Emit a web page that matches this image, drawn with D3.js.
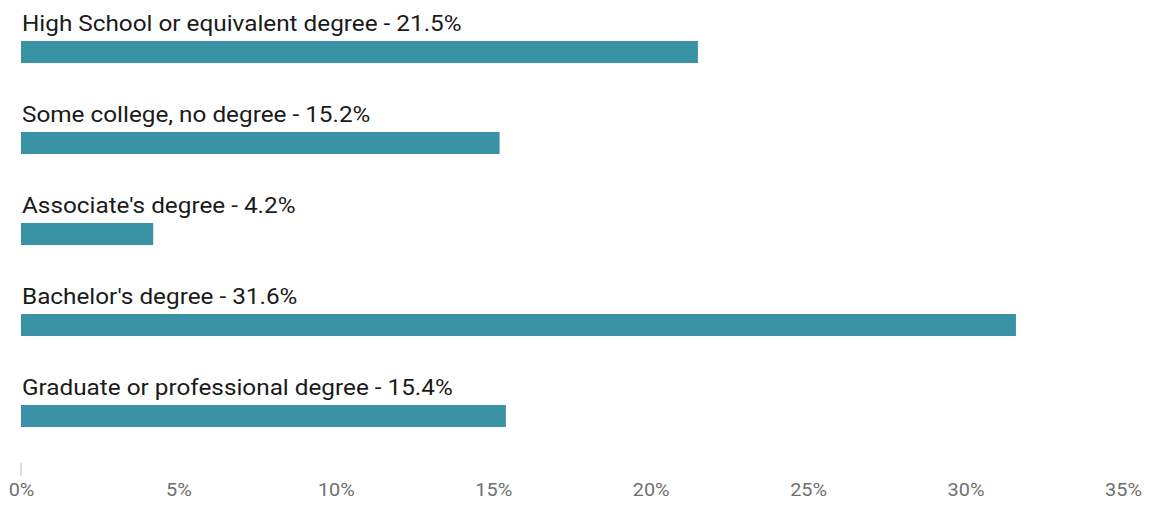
<!DOCTYPE html>
<html>
<head>
<meta charset="utf-8">
<script src="https://cdn.jsdelivr.net/npm/d3@7"></script>
<style>
  html, body { margin: 0; padding: 0; background: #fff; }
  svg { display: block; }
</style>
</head>
<body>
<svg id="chart" width="1149" height="518"></svg>
<script>
// Education level shares (percent of respondents)
const categories = [
  "High School or equivalent degree",
  "Some college, no degree",
  "Associate's degree",
  "Bachelor's degree",
  "Graduate or professional degree"
];
const values = [21.5, 15.2, 4.2, 31.6, 15.4];
const tickValues = [0, 5, 10, 15, 20, 25, 30, 35];

const svg = d3.select("#chart");
const margin = { left: 21, right: 26, top: 41 };
const width = 1149;
const textStretch = 1.105; // slightly wide lettering

const x = d3.scaleLinear()
  .domain([0, 35])
  .range([margin.left, width - margin.right]);

const y = d3.scaleBand()
  .domain(categories)
  .range([margin.top, margin.top + 91 * categories.length])
  .paddingInner(0)
  .paddingOuter(0);

const barH = 22;

const rows = svg.selectAll("g.row")
  .data(categories.map((c, i) => ({ c, v: values[i] })))
  .enter().append("g")
  .attr("class", "row");

rows.append("rect")
  .attr("x", x(0))
  .attr("y", d => y(d.c))
  .attr("width", d => x(d.v) - x(0))
  .attr("height", barH)
  .attr("fill", "#3993a4");

rows.append("text")
  .attr("transform", d => `translate(${x(0) + 1},${y(d.c) - 10}) scale(${textStretch},1)`)
  .attr("font-family", "Roboto, sans-serif")
  .attr("font-size", 22)
  .attr("fill", "#1a1a1a")
  .text(d => `${d.c} - ${d.v}%`);

// Bottom axis
const axis = d3.axisBottom(x)
  .tickValues(tickValues)
  .tickFormat(d => d + "%")
  .tickSize(0)
  .tickPadding(0);

const gAxis = svg.append("g")
  .attr("transform", "translate(0,483)")
  .call(axis);
gAxis.select(".domain").remove();
gAxis.selectAll(".tick text")
  .attr("dy", null)
  .attr("y", 13)
  .attr("transform", `scale(${textStretch},1)`)
  .attr("font-family", "Roboto, sans-serif")
  .attr("font-size", 18)
  .attr("fill", "#707070");

// small tick at the origin
svg.append("line")
  .attr("x1", x(0)).attr("x2", x(0))
  .attr("y1", 463).attr("y2", 476)
  .attr("stroke", "#bbb")
  .attr("stroke-width", 1);
</script>
</body>
</html>
